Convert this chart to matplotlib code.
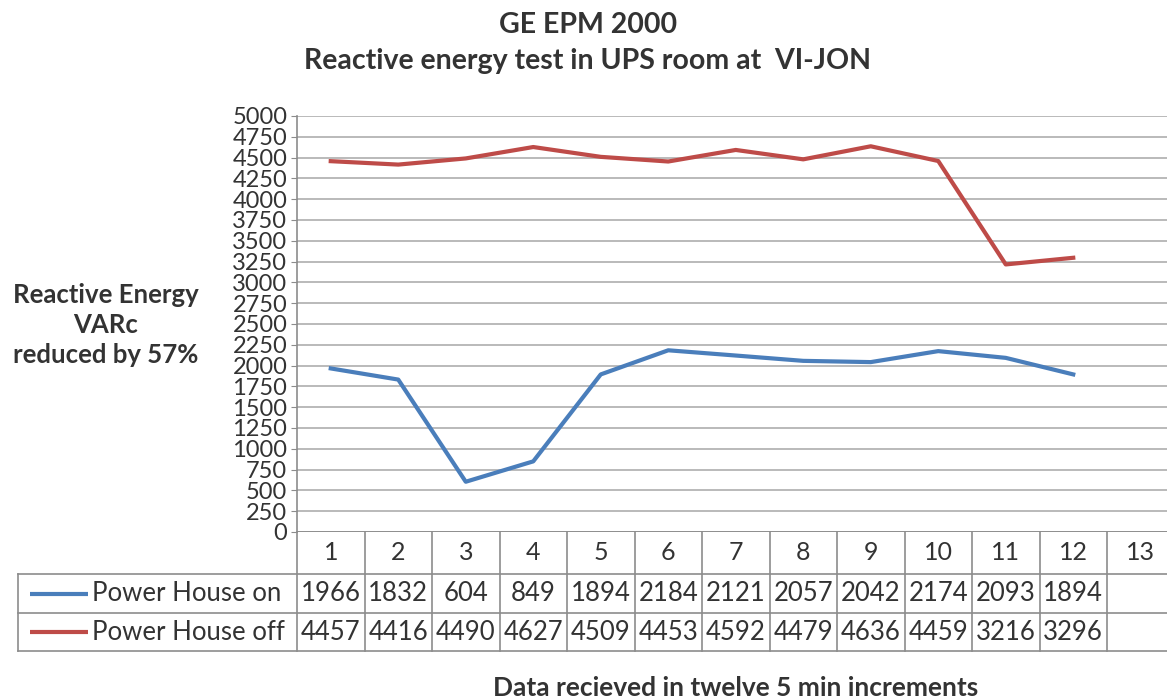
"""
GE EPM 2000 - reactive energy test chart with Excel-style data table
"""

import numpy as np
import matplotlib
matplotlib.use("Agg")
import matplotlib.pyplot as plt

# data
categories = list(range(1, 14))                      # 13 slots, last one empty
power_on = [1966, 1832, 604, 849, 1894, 2184, 2121, 2057, 2042, 2174, 2093, 1894]
power_off = [4457, 4416, 4490, 4627, 4509, 4453, 4592, 4479, 4636, 4459, 3216, 3296]
series_names = ["Power House on", "Power House off"]
y_ticks = list(range(0, 5001, 250))

title_1 = "GE EPM 2000"
title_2 = "Reactive energy test in UPS room at  VI-JON"
y_label = "Reactive Energy\nVARc\nreduced by 57%"
x_label = "Data recieved in twelve 5 min increments"

BLUE = "#4a7ebb"
RED = "#be4b48"
GRID = "#b4b4b4"
BORDER = "#8c8c8c"
TXT = "#333333"

plt.rcParams["font.family"] = ["Lato", "DejaVu Sans"]

W, H = 1167, 698
fig = plt.figure(figsize=(W / 100, H / 100), dpi=100)

# geometry in pixels
left_px, top_px, zero_px = 297, 116, 532
cat_w = 67.5
right_px = left_px + cat_w * len(categories)
leg_left = 18
row_edges = [532, 574, 613, 651]

ax = fig.add_axes([left_px / W, 1 - zero_px / H,
                   (right_px - left_px) / W, (zero_px - top_px) / H])
ax.set_xlim(0.5, len(categories) + 0.5)
ax.set_ylim(0, 5000)

x = np.arange(1, len(power_on) + 1)
ax.plot(x, power_off, color=RED, lw=3, solid_joinstyle="round", zorder=3)
ax.plot(x, power_on, color=BLUE, lw=3, solid_joinstyle="round", zorder=3)

ax.set_yticks(y_ticks)
ax.set_yticklabels([str(v) for v in y_ticks], fontsize=17, color=TXT)
ax.yaxis.grid(True, color=GRID, lw=1.3)
ax.set_axisbelow(True)
ax.tick_params(axis="y", length=4, color=BORDER, pad=3)
ax.set_xticks([])
for s in ["top", "right", "bottom"]:
    ax.spines[s].set_visible(False)
ax.spines["left"].set_color(BORDER)
ax.spines["left"].set_linewidth(1.2)
ax.axhline(0, color=BORDER, lw=1.3, zorder=2)

# data table below the plot, same x scale as the chart
tab = fig.add_axes([leg_left / W, 1 - row_edges[-1] / H,
                    (right_px - leg_left) / W, (row_edges[-1] - row_edges[0]) / H])
x0 = 0.5 - (left_px - leg_left) / cat_w
tab.set_xlim(x0, len(categories) + 0.5)
tab.set_ylim(row_edges[-1], row_edges[0])
tab.axis("off")

lkw = dict(color=BORDER, lw=1.2, clip_on=False)
for c in range(len(categories) + 1):
    tab.plot([c + 0.5, c + 0.5], [row_edges[0], row_edges[-1]], **lkw)
for r in row_edges[1:]:
    tab.plot([x0, len(categories) + 0.5], [r, r], **lkw)
tab.plot([x0, x0], [row_edges[1], row_edges[-1]], **lkw)

for c in categories:
    tab.text(c, (row_edges[0] + row_edges[1]) / 2, str(c), ha="center",
             va="center", fontsize=18, color=TXT)

rows = [power_on, power_off]
colors = [BLUE, RED]
for i, (vals, name, col) in enumerate(zip(rows, series_names, colors)):
    yc = (row_edges[i + 1] + row_edges[i + 2]) / 2
    for c, v in zip(categories, vals):
        tab.text(c, yc, str(v), ha="center", va="center", fontsize=18.5, color=TXT)
    tab.plot([x0 + 12 / cat_w, x0 + 70 / cat_w], [yc, yc], color=col, lw=3,
             solid_capstyle="butt")
    tab.text(x0 + 74 / cat_w, yc, name, ha="left", va="center", fontsize=18.5,
             color=TXT)

# titles and axis labels
fig.text(588 / W, 1 - 25 / H, title_1, ha="center", va="center",
         fontsize=20.5, fontweight="bold", color=TXT)
fig.text(587 / W, 1 - 61 / H, title_2, ha="center", va="center",
         fontsize=20.5, fontweight="bold", color=TXT)
fig.text(106 / W, 1 - 325 / H, y_label, ha="center", va="center",
         fontsize=18.5, fontweight="bold", color=TXT, linespacing=1.3)
fig.text(736 / W, 1 - 688 / H, x_label, ha="center", va="center",
         fontsize=19, fontweight="bold", color=TXT)

fig.savefig("out.png", dpi=100, facecolor="white")
